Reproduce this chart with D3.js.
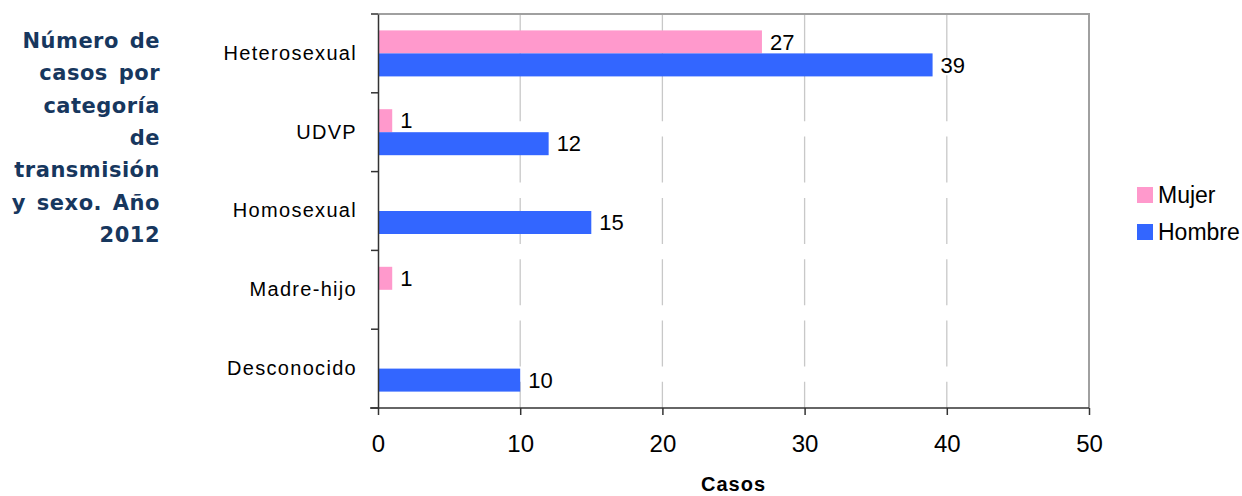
<!DOCTYPE html>
<html>
<head>
<meta charset="utf-8">
<script src="https://cdn.jsdelivr.net/npm/d3@7"></script>
<style>
  html, body { margin: 0; padding: 0; background: #fff; }
  svg { display: block; }
</style>
</head>
<body>
<svg id="chart" width="1242" height="496"></svg>
<script>
// Casos por categoría de transmisión y sexo, 2012
const categories = ["Heterosexual", "UDVP", "Homosexual", "Madre-hijo", "Desconocido"];
const seriesNames = ["Mujer", "Hombre"];
const mujer = [27, 1, 0, 1, 0];
const hombre = [39, 12, 15, 0, 10];
const xTicks = [0, 10, 20, 30, 40, 50];
const titleLines = ["Número de", "casos por", "categoría", "de", "transmisión", "y sexo. Año", "2012"];
const colors = { Mujer: "#ff99cc", Hombre: "#3366ff" };

const sans = "'Liberation Sans', Arial, sans-serif";
const rows = categories.map((c, i) => ({ cat: c, Mujer: mujer[i], Hombre: hombre[i] }));

const svg = d3.select("#chart");
const plot = { left: 378, right: 1089, top: 14, bottom: 408 };

const x = d3.scaleLinear().domain([0, 50]).range([plot.left, plot.right]);
const y = d3.scaleBand().domain(categories).range([plot.top, plot.bottom]).padding(0);
const ySub = d3.scaleBand().domain(seriesNames).range([0, y.bandwidth()])
  .paddingInner(0).paddingOuter(0.713);

// title block on the left
const title = svg.append("text")
  .attr("font-family", "'Century Gothic', 'DejaVu Sans', sans-serif")
  .attr("font-weight", "bold")
  .attr("font-size", 21)
  .attr("letter-spacing", "0.5px")
  .attr("word-spacing", "3px")
  .attr("fill", "#17375e")
  .attr("text-anchor", "end");
titleLines.forEach((t, i) => {
  title.append("tspan").attr("x", 160).attr("y", 48 + i * 32.3).text(t);
});

// dashed vertical gridlines
svg.append("g")
  .selectAll("line")
  .data(xTicks.slice(1, -1))
  .join("line")
  .attr("x1", d => x(d)).attr("x2", d => x(d))
  .attr("y1", plot.top).attr("y2", plot.bottom)
  .attr("stroke", "#c8c8c8")
  .attr("stroke-width", 1.3)
  .attr("stroke-dasharray", "46,15.3");

// plot frame: top and right in grey
svg.append("path")
  .attr("d", `M${plot.left},${plot.top}H${plot.right}V${plot.bottom}`)
  .attr("fill", "none")
  .attr("stroke", "#a0a0a0")
  .attr("stroke-width", 2);

// bars
const groups = svg.append("g")
  .selectAll("g")
  .data(rows)
  .join("g")
  .attr("transform", d => `translate(0,${y(d.cat)})`);

groups.selectAll("rect")
  .data(d => seriesNames.map(s => ({ s, v: d[s] })))
  .join("rect")
  .attr("x", x(0))
  .attr("y", d => ySub(d.s))
  .attr("width", d => x(d.v) - x(0))
  .attr("height", ySub.bandwidth())
  .attr("fill", d => colors[d.s]);

// value labels
groups.selectAll("text")
  .data(d => seriesNames.map(s => ({ s, v: d[s] })).filter(e => e.v > 0))
  .join("text")
  .attr("x", d => x(d.v) + 8)
  .attr("y", d => ySub(d.s) + ySub.bandwidth() / 2)
  .attr("dy", "0.35em")
  .attr("font-family", sans)
  .attr("font-size", 22)
  .attr("fill", "#000")
  .text(d => d.v);

// left (category) axis
const yAxis = d3.axisLeft(y).tickSize(0).tickPadding(21);
const gy = svg.append("g").attr("transform", `translate(${plot.left},0)`).call(yAxis);
gy.select(".domain").attr("stroke", "#333").attr("stroke-width", 1.5);
gy.selectAll("text")
  .attr("font-family", sans)
  .attr("font-size", 20)
  .attr("letter-spacing", "1.3px")
  .attr("fill", "#000");
// tick marks on band boundaries
svg.append("g")
  .selectAll("line")
  .data(categories.map(c => y(c)).concat([plot.bottom]))
  .join("line")
  .attr("x1", plot.left - 7).attr("x2", plot.left)
  .attr("y1", d => d).attr("y2", d => d)
  .attr("stroke", "#333").attr("stroke-width", 1.5);

// bottom (value) axis
const xAxis = d3.axisBottom(x).tickValues(xTicks).tickSize(7).tickPadding(20).tickSizeOuter(0);
const gx = svg.append("g").attr("transform", `translate(0,${plot.bottom})`).call(xAxis);
gx.select(".domain").attr("d", `M${plot.left - 8},0H${plot.right}`).attr("stroke", "#333").attr("stroke-width", 1.5);
gx.selectAll(".tick line").attr("stroke", "#333").attr("stroke-width", 1.5);
gx.selectAll("text")
  .attr("font-family", sans)
  .attr("font-size", 24)
  .attr("fill", "#000");

// axis title
svg.append("text")
  .attr("x", (plot.left + plot.right) / 2)
  .attr("y", 491)
  .attr("text-anchor", "middle")
  .attr("font-family", sans)
  .attr("font-weight", "bold")
  .attr("font-size", 20)
  .attr("letter-spacing", "1px")
  .attr("fill", "#000")
  .text("Casos");

// legend
const legend = svg.append("g")
  .selectAll("g")
  .data(seriesNames)
  .join("g")
  .attr("transform", (d, i) => `translate(1137,${187 + i * 37})`);
legend.append("rect")
  .attr("width", 16).attr("height", 16)
  .attr("fill", d => colors[d]);
legend.append("text")
  .attr("x", 21).attr("y", 8).attr("dy", "0.35em")
  .attr("font-family", sans)
  .attr("font-size", 23)
  .attr("fill", "#000")
  .text(d => d);
</script>
</body>
</html>
